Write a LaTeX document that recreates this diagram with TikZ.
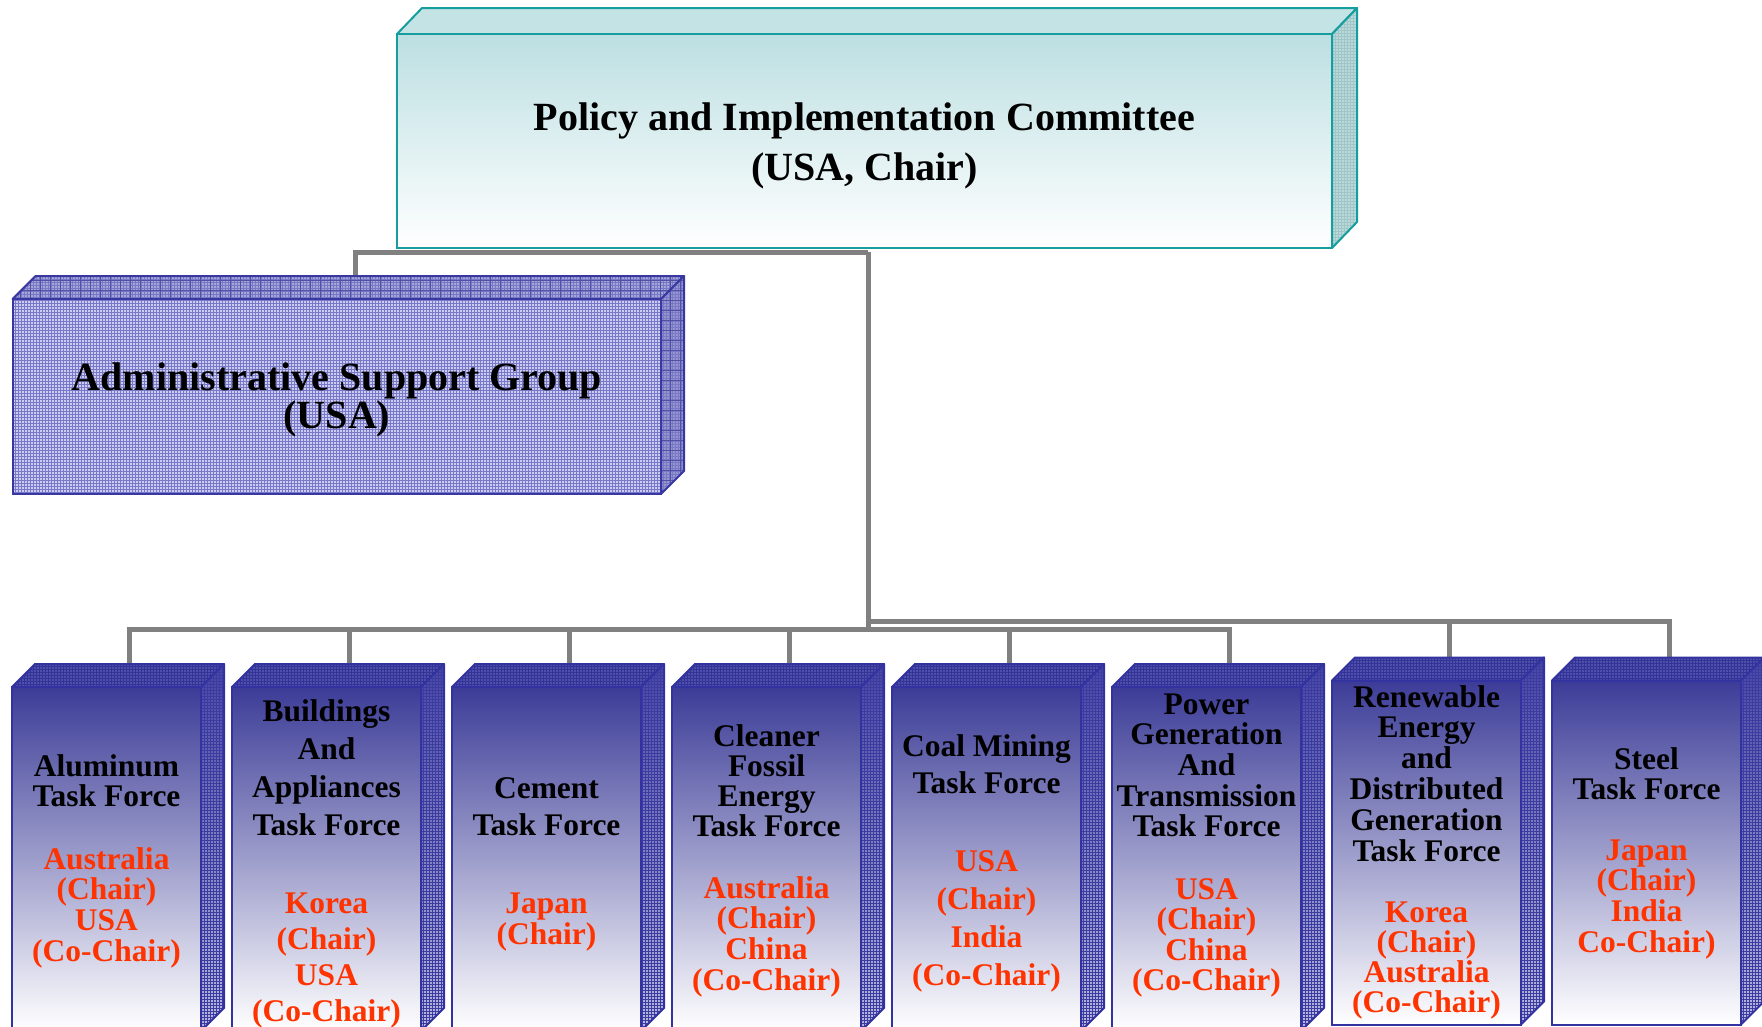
\documentclass[tikz,border=0pt]{standalone}
\usepackage{fontspec}
\setmainfont{Liberation Serif}
\usetikzlibrary{patterns}
\definecolor{picborder}{RGB}{22,158,158}
\definecolor{picfronttop}{RGB}{188,223,226}
\definecolor{pictopface}{RGB}{196,227,229}
\definecolor{picside}{RGB}{184,216,218}
\definecolor{picgrid}{RGB}{160,198,200}
\definecolor{admborder}{RGB}{56,56,160}
\definecolor{admfrontc}{RGB}{204,204,240}
\definecolor{admfrontgrid}{RGB}{120,120,200}
\definecolor{admtopc}{RGB}{165,165,214}
\definecolor{admsidec}{RGB}{150,150,204}
\definecolor{admcoarse}{RGB}{80,80,165}
\definecolor{tfborder}{RGB}{50,50,160}
\definecolor{tffronttop}{RGB}{60,60,152}
\definecolor{tftopc}{RGB}{78,78,172}
\definecolor{tftopgrid}{RGB}{52,52,150}
\definecolor{tfsidetop}{RGB}{70,70,165}
\definecolor{tfsidebot}{RGB}{185,185,225}
\definecolor{tfsidegrid}{RGB}{60,60,160}
\definecolor{chairred}{RGB}{255,51,0}
\definecolor{conngray}{RGB}{128,128,128}
\newcommand\tftext[6]{%
  \foreach \s [count=\k from 0] in {#6} {\node[#1] (#2-\k) at (#3, #4+\k*#5) {\s};}%
}
\begin{document}
\begin{tikzpicture}[x=1pt,y=-1pt,
  conn/.style={draw=conngray, line width=5pt},
  boxnode/.style={inner sep=0pt, outer sep=0pt, anchor=north west},
  bigtext/.style={font=\fontsize{40}{40}\selectfont\bfseries, text=black, inner sep=0pt, anchor=base},
  tfblack/.style={font=\fontsize{31.5}{31.5}\selectfont\bfseries, text=black, inner sep=0pt, anchor=base},
  tfred/.style={font=\fontsize{31.5}{31.5}\selectfont\bfseries, text=chairred, inner sep=0pt, anchor=base}
]
\useasboundingbox (0,0) rectangle (1762,1026);
\fill[white] (0,0) rectangle (1762,1026);

% ---------- box nodes (faces drawn later) ----------
\path (397,34) node[boxnode, minimum width=935pt, minimum height=214pt] (pic) {};
\path (12.6,299) node[boxnode, minimum width=648.4pt, minimum height=195pt] (adm) {};
\foreach \i/\x/\y in {1/12/687,2/232/687,3/452/687,4/672/687,5/892/687,6/1112/687,7/1332/680.5,8/1552/680.5}{
  \path (\x,\y) node[boxnode, minimum width=189pt, minimum height=344pt] (tf\i) {};
  \coordinate (tf\i-c) at ([shift={(23,-23)}]tf\i.north);
}
\coordinate (adm-c) at ([shift={(19,-23)}]adm.north);
\coordinate (hub1) at ([shift={(3.5,4)}]pic.south);
\coordinate (hub2) at (868,629);
\coordinate (hub3) at (868,621);

% ---------- connectors ----------
\draw[conn] (adm-c) |- (hub1);
\draw[conn] (hub1) -- (hub2);
\draw[conn] (tf1-c) |- (tf6-c |- hub2) -- (tf6-c);
\foreach \i in {2,...,5}{\draw[conn] (tf\i-c) -- (tf\i-c |- hub2);}
\draw[conn] (hub3) -| (tf8-c);
\draw[conn] (tf7-c) -- (tf7-c |- hub3);

% ---------- top committee box ----------
\path[fill=pictopface, draw=picborder, line width=2pt, line join=round] (pic.north west) -- ++(25,-26) -- ++(935,0) -- (pic.north east) -- cycle;
\path[fill=picside] (pic.north east) -- ++(25,-26) -- ++(0,214) -- (pic.south east) -- cycle;
\path[pattern=grid, pattern color=picgrid] (pic.north east) -- ++(25,-26) -- ++(0,214) -- (pic.south east) -- cycle;
\draw[picborder, line width=2pt, line join=round] (pic.north east) -- ++(25,-26) -- ++(0,214) -- (pic.south east) -- cycle;
\path[draw=picborder, line width=2pt, top color=picfronttop, bottom color=white] (pic.north west) rectangle (pic.south east);
\node[bigtext] (pic-t1) at (864.5,130) {Policy and Implementation Committee};
\node[bigtext] (pic-t2) at (864.5,180) {(USA, Chair)};

% ---------- administrative box ----------
\path[fill=admtopc, postaction={pattern=grid, pattern color=admfrontgrid}] (adm.north west) -- ++(23,-23) -- ++(648.4,0) -- (adm.north east) -- cycle;
\begin{scope}
  \clip (adm.north west) -- ++(23,-23) -- ++(648.4,0) -- (adm.north east) -- cycle;
  \draw[admcoarse, line width=0.5pt, step=10pt] (0,270) grid (700,300);
\end{scope}
\draw[admborder, line width=2pt, line join=round] (adm.north west) -- ++(23,-23) -- ++(648.4,0) -- (adm.north east) -- cycle;
\path[fill=admsidec, postaction={pattern=grid, pattern color=admfrontgrid}] (adm.north east) -- ++(23,-23) -- ++(0,195) -- (adm.south east) -- cycle;
\begin{scope}
  \clip (adm.north east) -- ++(23,-23) -- ++(0,195) -- (adm.south east) -- cycle;
  \draw[admcoarse, line width=0.5pt, step=10pt] (650,270) grid (700,500);
\end{scope}
\draw[admborder, line width=2pt, line join=round] (adm.north east) -- ++(23,-23) -- ++(0,195) -- (adm.south east) -- cycle;
\path[fill=admfrontc, postaction={pattern=grid, pattern color=admfrontgrid}] (adm.north west) rectangle (adm.south east);
\draw[admborder, line width=2pt] (adm.north west) rectangle (adm.south east);
\node[bigtext] (adm-t1) at (337,390) {Administrative Support Group};
\node[bigtext] (adm-t2) at (337,428) {(USA)};

% ---------- task force boxes ----------
\foreach \i in {1,...,8}{
  \path[fill=tftopc, postaction={pattern=grid, pattern color=tftopgrid}] (tf\i.north west) -- ++(23,-23) -- ++(189,0) -- (tf\i.north east) -- cycle;
  \draw[tfborder, line width=2pt, line join=round] (tf\i.north west) -- ++(23,-23) -- ++(189,0) -- (tf\i.north east) -- cycle;
  \path[top color=tfsidetop, bottom color=tfsidebot] (tf\i.north east) -- ++(23,-23) -- ++(0,344) -- (tf\i.south east) -- cycle;
  \path[pattern=grid, pattern color=tfsidegrid] (tf\i.north east) -- ++(23,-23) -- ++(0,344) -- (tf\i.south east) -- cycle;
  \draw[tfborder, line width=2pt, line join=round] (tf\i.north east) -- ++(23,-23) -- ++(0,344) -- (tf\i.south east) -- cycle;
  \path[draw=tfborder, line width=2pt, top color=tffronttop, bottom color=white] (tf\i.north west) rectangle (tf\i.south east);
}

% ---------- task force texts ----------
\tftext{tfblack}{tf1b}{106.5}{776.7}{30}{Aluminum,Task Force}
\tftext{tfred}{tf1r}{106.5}{869}{30.7}{Australia,(Chair),USA,(Co-Chair)}
\tftext{tfblack}{tf2b}{326.5}{721}{38}{Buildings,And,Appliances,Task Force}
\tftext{tfred}{tf2r}{326.5}{913}{36}{Korea,(Chair),USA,(Co-Chair)}
\tftext{tfblack}{tf3b}{546.5}{798}{37}{Cement,Task Force}
\tftext{tfred}{tf3r}{546.5}{913}{31}{Japan,(Chair)}
\tftext{tfblack}{tf4b}{766.5}{746}{30.3}{Cleaner,Fossil,Energy,Task Force}
\tftext{tfred}{tf4r}{766.5}{898}{30.7}{Australia,(Chair),China,(Co-Chair)}
\tftext{tfblack}{tf5b}{986.5}{756}{37}{Coal Mining,Task Force}
\tftext{tfred}{tf5r}{986.5}{871}{38}{USA,(Chair),India,(Co-Chair)}
\tftext{tfblack}{tf6b}{1206.5}{714}{30.7}{Power,Generation,And,Transmission,Task Force}
\tftext{tfred}{tf6r}{1206.5}{899}{30.5}{USA,(Chair),China,(Co-Chair)}
\tftext{tfblack}{tf7b}{1426.5}{707}{30.8}{Renewable,Energy,and,Distributed,Generation,Task Force}
\tftext{tfred}{tf7r}{1426.5}{922}{30.3}{Korea,(Chair),Australia,(Co-Chair)}
\tftext{tfblack}{tf8b}{1646.5}{769}{30}{Steel,Task Force}
\tftext{tfred}{tf8r}{1646.5}{860}{30.7}{Japan,(Chair),India,Co-Chair)}
\end{tikzpicture}
\end{document}
